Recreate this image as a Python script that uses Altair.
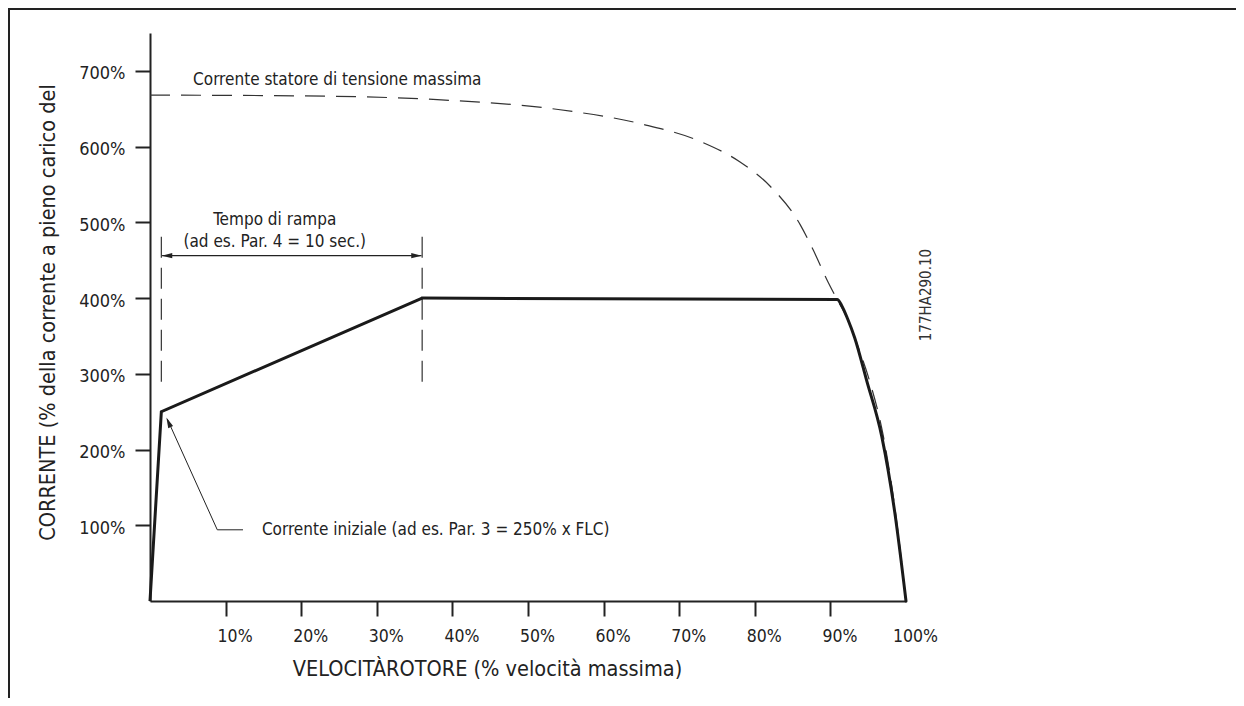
import altair as alt
import pandas as pd

FONT = "DejaVu Sans Condensed, Liberation Sans Narrow, DejaVu Sans, sans-serif"
INK = "#222222"

# ---- data ----
ramp_speed = [0, 1.5, 36]
ramp_current = [0, 250, 400]

plateau_speed = [36, 90.9, 91.5, 92.3, 93.2, 94.8, 96.8, 98.5, 100]
plateau_current = [400, 398, 390, 372, 348, 291, 217, 118, 0]

dashed_speed = [0, 20, 38, 54, 65, 73, 78, 82, 86, 87.7, 89.7, 90.9, 92.2, 93.5, 95.2, 97.0, 98.6, 100]
dashed_current = [668, 667, 662, 649, 630, 606, 580, 548, 497, 464, 421, 398, 374, 340, 290, 218, 118, 0]

x_label_values = [10, 20, 30, 40, 50, 60, 70, 80, 90, 100]
y_tick_values = [100, 200, 300, 400, 500, 600, 700]

ramp_marker_speed = [1.5, 36]
ramp_marker_top = [481, 481]
ramp_marker_bottom = [288, 288]

ramp_arrow_start = [1.6]
ramp_arrow_end = [35.9]
ramp_arrow_level = [456]

arrowhead_speed = [2.25, 35.25, 2.45]
arrowhead_current = [456, 456, 236]
arrowhead_angle = [270, 90, 336]

leader_speed = [12.3, 8.9, 2.3]
leader_current = [94, 94, 240]

text_labels = [
    "Corrente statore di tensione massima",
    "Tempo di rampa",
    "(ad es. Par. 4 = 10 sec.)",
    "Corrente iniziale (ad es. Par. 3 = 250% x FLC)",
]
text_speed = [5.7, 16.5, 16.5, 14.8]
text_current = [688, 503, 474, 94]
text_align = ["left", "center", "center", "left"]

code_label = ["177HA290.10"]
code_speed = [102.6]
code_current = [404]

# ---- scales & axes ----
xs = alt.Scale(domain=[0, 100], nice=False, zero=False)
ys = alt.Scale(domain=[0, 750], nice=False, zero=False)

x_axis = alt.Axis(
    values=x_label_values,
    labelExpr="datum.value + '%'",
    tickOpacity={"condition": {"test": "datum.value >= 100", "value": 0}, "value": 1},
    tickSize=15, tickWidth=2, tickColor=INK,
    domainColor=INK, domainWidth=2,
    labelFont=FONT, labelFontSize=17.5, labelColor=INK, labelPadding=11, labelOffset=9,
    labelFlush=False, labelOverlap=False, grid=False,
    title="VELOCITÀROTORE (% velocità massima)",
    titleFont=FONT, titleFontSize=21.5, titleFontWeight="normal", titleColor=INK,
    titleX=337, titleY=68, titleAlign="center", titleBaseline="middle",
)
y_axis = alt.Axis(
    values=y_tick_values,
    labelExpr="datum.value + '%'",
    tickSize=15, tickWidth=2, tickColor=INK,
    domainColor=INK, domainWidth=2,
    labelFont=FONT, labelFontSize=18, labelColor=INK, labelPadding=10, labelOffset=3,
    labelFlush=False, labelOverlap=False, grid=False,
    title="CORRENTE (% della corrente a pieno carico del",
    titleFont=FONT, titleFontSize=21.5, titleFontWeight="normal", titleColor=INK,
    titleAngle=270, titleX=-102, titleY=279, titleAlign="center", titleBaseline="middle",
)


def X(field="x"):
    return alt.X(f"{field}:Q", scale=xs, axis=x_axis)


def Y(field="y"):
    return alt.Y(f"{field}:Q", scale=ys, axis=y_axis)


ramp_df = pd.DataFrame({"x": ramp_speed, "y": ramp_current, "o": list(range(len(ramp_speed)))})
plateau_df = pd.DataFrame({"x": plateau_speed, "y": plateau_current, "o": list(range(len(plateau_speed)))})
dashed_df = pd.DataFrame({"x": dashed_speed, "y": dashed_current, "o": list(range(len(dashed_speed)))})

ramp_line = alt.Chart(ramp_df).mark_line(color="#1a1a1a", strokeWidth=3, strokeJoin="miter").encode(
    x=X(), y=Y(), order="o:Q"
)
plateau_line = alt.Chart(plateau_df).mark_line(
    color="#1a1a1a", strokeWidth=3, interpolate="monotone", strokeCap="round"
).encode(x=X(), y=Y(), order="o:Q")

dashed = alt.Chart(dashed_df).mark_line(
    color="#333333", strokeWidth=1.2, strokeDash=[20, 11], interpolate="monotone"
).encode(x=X(), y=Y(), order="o:Q")

marker_df = pd.DataFrame({"x": ramp_marker_speed, "y": ramp_marker_top, "y2": ramp_marker_bottom})
ramp_marks = alt.Chart(marker_df).mark_rule(color="#333333", strokeWidth=1.2, strokeDash=[21, 10]).encode(
    x=X(), y=Y(), y2="y2:Q"
)

arrow_df = pd.DataFrame({"x": ramp_arrow_start, "x2": ramp_arrow_end, "y": ramp_arrow_level})
ramp_arrow = alt.Chart(arrow_df).mark_rule(color=INK, strokeWidth=1.2).encode(
    x=X(), x2="x2:Q", y=Y()
)

head_df = pd.DataFrame({"x": arrowhead_speed, "y": arrowhead_current, "a": arrowhead_angle})
heads = alt.Chart(head_df).mark_point(
    shape="M0,-1L0.5,1L-0.5,1Z", filled=True, color=INK, opacity=1, size=110
).encode(x=X(), y=Y(), angle=alt.Angle("a:Q", scale=None))

leader_df = pd.DataFrame({"x": leader_speed, "y": leader_current, "o": list(range(len(leader_speed)))})
leader = alt.Chart(leader_df).mark_line(color=INK, strokeWidth=1).encode(x=X(), y=Y(), order="o:Q")

text_df = pd.DataFrame({"t": text_labels, "x": text_speed, "y": text_current, "al": text_align})
texts_left = alt.Chart(text_df[text_df["al"] == "left"]).mark_text(
    font=FONT, fontSize=17, color=INK, align="left", baseline="middle"
).encode(x=X(), y=Y(), text="t:N")
texts_center = alt.Chart(text_df[text_df["al"] == "center"]).mark_text(
    font=FONT, fontSize=17, color=INK, align="center", baseline="middle"
).encode(x=X(), y=Y(), text="t:N")

code_df = pd.DataFrame({"t": code_label, "x": code_speed, "y": code_current})
code_text = alt.Chart(code_df).mark_text(
    font="Liberation Sans Narrow, DejaVu Sans Condensed, sans-serif", fontSize=15, color="#333333",
    angle=270, align="center", baseline="middle"
).encode(x=X(), y=Y(), text="t:N")

frame_top = alt.Chart(code_df).mark_rule(color="#222222", strokeWidth=2).encode(
    x=alt.value(-142), x2=alt.value(1086), y=alt.value(-24)
)
frame_left = alt.Chart(code_df).mark_rule(color="#222222", strokeWidth=2).encode(
    x=alt.value(-141), y=alt.value(-25), y2=alt.value(665)
)

chart = alt.layer(
    dashed, ramp_marks, ramp_arrow, leader, heads, ramp_line, plateau_line,
    texts_left, texts_center, code_text, frame_top, frame_left,
).properties(
    width=756, height=568,
    autosize=alt.AutoSizeParams(type="none"),
    padding={"left": 142, "top": 25, "right": 330, "bottom": 97},
    background="white",
).configure_view(stroke=None)

chart.save("out.html", embed_options={"renderer": "svg", "actions": False})
